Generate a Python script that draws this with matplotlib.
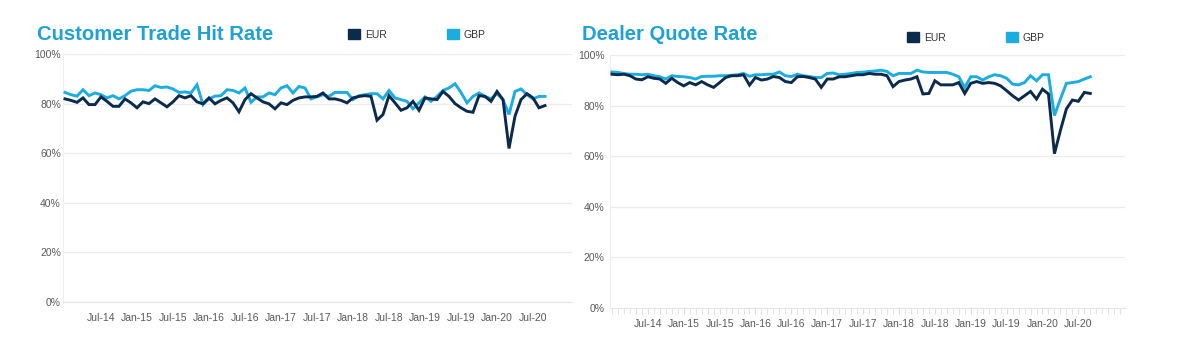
import matplotlib.pyplot as plt
import matplotlib.patches as mpatches
import numpy as np

plt.rcParams['font.family'] = ['Liberation Sans', 'DejaVu Sans']

# monthly points, Jan-14 .. Sep-20
tick_labels = ['Jul-14', 'Jan-15', 'Jul-15', 'Jan-16', 'Jul-16', 'Jan-17', 'Jul-17',
               'Jan-18', 'Jul-18', 'Jan-19', 'Jul-19', 'Jan-20', 'Jul-20']
y_ticks = [0, 20, 40, 60, 80, 100]
y_labels = ['0%', '20%', '40%', '60%', '80%', '100%']

cust_eur = [81.9, 81.3, 80.5, 82.3, 79.6, 79.6, 82.7, 80.9, 78.9, 78.9,
            81.9, 80.3, 78.3, 80.7, 80.0, 81.9, 80.3, 78.7, 80.7, 83.2,
            82.3, 83.2, 80.7, 79.9, 82.3, 79.9, 81.3, 82.3, 80.3, 76.7,
            81.6, 84.0, 82.3, 80.7, 79.9, 77.9, 80.3, 79.6, 81.3, 82.3,
            82.7, 82.7, 82.9, 84.3, 81.9, 81.9, 81.3, 80.3, 82.3, 82.9,
            83.2, 82.9, 73.3, 75.6, 83.2, 80.3, 77.3, 78.3, 80.9, 77.3,
            82.3, 81.9, 81.6, 84.9, 82.9, 80.0, 78.3, 76.9, 76.5, 83.2,
            82.9, 80.9, 84.9, 81.6, 61.9, 74.9, 81.6, 84.0, 82.3, 78.3, 79.2]
cust_gbp = [84.5, 83.6, 83.0, 85.6, 83.2, 84.3, 83.6, 82.3, 83.2, 81.9,
            83.2, 85.0, 85.6, 85.6, 85.3, 87.2, 86.5, 86.7, 85.9, 84.5,
            84.7, 84.3, 87.6, 79.6, 81.9, 83.0, 83.2, 85.6, 85.3, 84.3,
            86.3, 80.5, 82.7, 82.7, 84.3, 83.6, 86.3, 87.2, 84.3, 86.9,
            86.3, 81.9, 82.7, 83.6, 82.9, 84.5, 84.5, 84.5, 81.6, 83.2,
            83.6, 84.0, 84.0, 81.9, 85.3, 82.3, 81.6, 80.9, 77.9, 80.3,
            82.7, 80.9, 82.9, 85.3, 86.3, 88.0, 84.5, 80.3, 82.9, 84.3,
            82.9, 81.9, 84.0, 81.6, 75.6, 84.9, 85.9, 83.6, 81.9, 82.9, 82.9]

dealer_eur = [92.4, 92.2, 92.4, 91.8, 90.5, 90.2, 91.4, 90.8, 90.5, 88.8,
              90.8, 89.1, 87.8, 89.1, 88.2, 89.5, 88.2, 87.2, 89.1, 91.1,
              91.8, 91.8, 92.2, 88.1, 91.1, 90.1, 90.5, 91.5, 91.1, 89.5,
              89.1, 91.4, 91.5, 91.1, 90.5, 87.2, 90.5, 90.5, 91.4, 91.4,
              91.8, 92.2, 92.2, 92.7, 92.4, 92.4, 91.8, 87.5, 89.5, 90.1,
              90.5, 91.4, 84.6, 84.8, 89.8, 88.2, 88.2, 88.2, 89.1, 84.8,
              88.8, 89.5, 88.8, 89.1, 88.8, 87.8, 85.9, 83.9, 82.2, 83.9,
              85.6, 82.6, 86.5, 84.6, 61.0, 70.2, 78.7, 82.2, 81.7, 85.2, 84.8]
dealer_gbp = [93.3, 93.1, 92.7, 92.4, 92.4, 92.2, 92.4, 91.8, 91.4, 90.5,
              91.8, 91.5, 91.4, 91.1, 90.5, 91.5, 91.6, 91.6, 91.8, 91.8,
              92.0, 92.2, 92.7, 91.6, 92.2, 92.2, 92.4, 92.4, 93.3, 91.8,
              91.5, 92.4, 91.8, 91.5, 91.1, 91.1, 92.7, 92.9, 92.2, 92.4,
              92.7, 93.1, 93.2, 93.5, 93.7, 94.0, 93.5, 91.8, 92.7, 92.7,
              92.7, 94.0, 93.3, 93.1, 93.1, 93.1, 93.1, 92.4, 91.4, 87.2,
              91.4, 91.4, 90.1, 91.4, 92.2, 91.8, 90.8, 88.5, 88.2, 89.1,
              91.8, 89.8, 92.2, 92.2, 76.1, 82.6, 88.8, 89.1, 89.5, 90.5, 91.4]

EUR_C = '#0B2A4C'
GBP_C = '#1BADDF'
TITLE_C = '#1EA2D4'
GRID_C = '#ECECEC'
TEXT_C = '#595959'

W, H = 1190, 344
fig = plt.figure(figsize=(W / 100, H / 100), dpi=100)


def fr(x0, y0, x1, y1):
    return [x0 / W, 1 - y1 / H, (x1 - x0) / W, (y1 - y0) / H]


def panel(rect, eur, gbp, title, title_xy, leg_xy, xmax, minor, label_pad):
    ax = fig.add_axes(rect)
    x = np.arange(len(eur))
    ax.plot(x, gbp, color=GBP_C, lw=2.1, solid_joinstyle='miter', zorder=3)
    ax.plot(x, eur, color=EUR_C, lw=2.1, solid_joinstyle='miter', zorder=4)
    ax.set_ylim(0, 100)
    ax.set_xlim(-0.33, xmax)
    ax.set_yticks(y_ticks)
    ax.set_yticklabels(y_labels)
    ax.set_xticks(np.arange(6, 6 * (len(tick_labels) + 1), 6))
    ax.set_xticklabels(tick_labels)
    ax.grid(axis='y', color=GRID_C, lw=0.9)
    ax.set_axisbelow(True)
    for s in ['top', 'right']:
        ax.spines[s].set_visible(False)
    ax.spines['left'].set_color('#EFEFEF')
    ax.spines['bottom'].set_color('#E4E4E4')
    ax.spines['left'].set_linewidth(0.8)
    ax.spines['bottom'].set_linewidth(0.8)
    ax.tick_params(axis='y', length=0, pad=label_pad, labelsize=7.5, labelcolor=TEXT_C)
    if minor:
        ax.set_xticks(np.arange(0, int(xmax) + 1), minor=True)
        ax.tick_params(axis='x', which='both', length=4, color='#DDDDDD',
                       pad=4, labelsize=7.5, labelcolor=TEXT_C)
    else:
        ax.tick_params(axis='x', length=0, pad=8, labelsize=7.5, labelcolor=TEXT_C)

    fig.text(title_xy[0] / W, 1 - title_xy[1] / H, title, color=TITLE_C,
             fontsize=14.6, fontweight='bold', va='center', ha='left')
    handles = [mpatches.Patch(color=EUR_C, label='EUR'),
               mpatches.Patch(color=GBP_C, label='GBP')]
    fig.legend(handles=handles, loc='center left',
               bbox_to_anchor=(leg_xy[0] / W, 1 - leg_xy[1] / H),
               ncol=2, frameon=False, fontsize=7.5, handlelength=1.15,
               handleheight=1.15, handletextpad=0.45, columnspacing=5.8,
               borderpad=0, borderaxespad=0, labelcolor='#333333')
    return ax


panel(fr(63, 54, 572, 302), cust_eur, cust_gbp, 'Customer Trade Hit Rate',
      (37, 35), (348, 34.5), 84.5, False, 1.5)
panel(fr(610, 55, 1125, 308), dealer_eur, dealer_gbp, 'Dealer Quote Rate',
      (582, 35), (907, 37.5), 85.8, True, 4)

fig.savefig('out.png', dpi=100)
